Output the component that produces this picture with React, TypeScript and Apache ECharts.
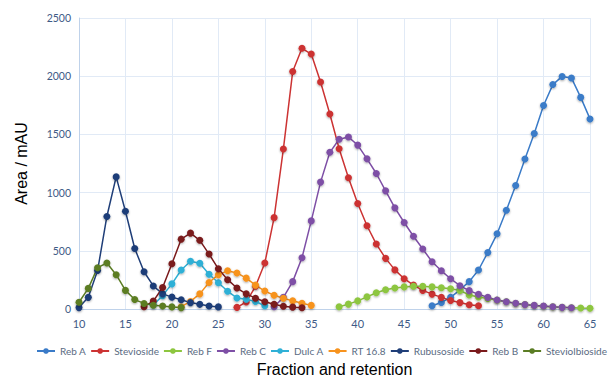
import React, { useEffect, useRef } from "react";
import * as echarts from "echarts";

// Fraction numbers (x) start for each series and the measured area values (mAU)
const rebAStart = 48;
const rebA = [28, 56, 100, 165, 235, 335, 486, 646, 848, 1061, 1288, 1507, 1748, 1928, 1998, 1985, 1818, 1633];

const steviosideStart = 27;
const stevioside = [14, 60, 195, 395, 785, 1375, 2040, 2240, 2190, 1950, 1675, 1377, 1128, 906, 715, 558, 435, 336, 260, 205, 160, 128, 100, 73, 55, 36, 28];

const rebFStart = 38;
const rebF = [20, 42, 70, 104, 140, 165, 180, 190, 196, 196, 190, 182, 174, 160, 120, 104, 90, 76, 62, 48, 38, 30, 24, 18, 14, 11, 8, 6];

const rebCStart = 31;
const rebC = [20, 100, 235, 440, 757, 1090, 1346, 1458, 1478, 1408, 1290, 1164, 1015, 869, 743, 625, 515, 406, 328, 260, 200, 158, 126, 100, 77, 62, 50, 39, 31, 25, 20, 14, 11];

const dulcAStart = 18;
const dulcA = [35, 115, 216, 335, 410, 393, 298, 226, 152, 95, 84, 64, 28];

const rt168Start = 21;
const rt168 = [20, 65, 130, 228, 295, 328, 310, 265, 205, 154, 118, 93, 70, 50, 31];

const rubusosideStart = 10;
const rubusoside = [12, 100, 330, 795, 1135, 840, 520, 320, 198, 130, 102, 80, 55, 40, 26, 18];

const rebBStart = 17;
const rebB = [20, 68, 185, 388, 600, 652, 590, 472, 345, 252, 180, 130, 93, 62, 40, 24, 16, 10];

const steviolbiosideStart = 10;
const steviolbioside = [58, 177, 355, 395, 295, 160, 81, 48, 32, 25, 18, 12];

const seriesNames = ["Reb A", "Stevioside", "Reb F", "Reb C", "Dulc A", "RT 16.8", "Rubusoside", "Reb B", "Steviolbioside"];
const seriesStarts = [rebAStart, steviosideStart, rebFStart, rebCStart, dulcAStart, rt168Start, rubusosideStart, rebBStart, steviolbiosideStart];
const seriesValues = [rebA, stevioside, rebF, rebC, dulcA, rt168, rubusoside, rebB, steviolbioside];
const seriesColors = ["#3A7BC8", "#CC3333", "#8DC63F", "#7E4FA6", "#2FB0D6", "#F7931E", "#1F3E78", "#7A1A1C", "#5B7D24"];

const xMin = 10;
const xMax = 65;
const xStep = 5;
const yMin = 0;
const yMax = 2500;
const yStep = 500;

export default function App() {
  const ref = useRef<HTMLDivElement>(null);

  useEffect(() => {
    if (!ref.current) return;
    const chart = echarts.init(ref.current, undefined, { renderer: "svg" });
    const labelFont = "Lato, 'Open Sans', sans-serif";
    chart.setOption({
      animation: false,
      backgroundColor: "#ffffff",
      grid: { left: 79, right: 24, top: 18, bottom: 67, containLabel: false },
      legend: {
        data: seriesNames,
        top: 346,
        left: 36,
        right: 0,
        padding: 0,
        itemWidth: 18,
        itemHeight: 7,
        itemGap: 4,
        textStyle: { color: "#5A6B82", fontSize: 10, fontFamily: labelFont },
      },
      xAxis: {
        type: "value",
        min: xMin,
        max: xMax,
        interval: xStep,
        name: "Fraction and retention",
        nameLocation: "middle",
        nameGap: 52,
        nameTextStyle: { color: "#000", fontSize: 16, fontFamily: "'Liberation Sans', Arial, sans-serif" },
        axisLine: { show: true, lineStyle: { color: "#BFD2EA", width: 1 } },
        axisTick: { show: false },
        axisLabel: { color: "#3E5A86", fontSize: 11, fontFamily: labelFont, margin: 9 },
        splitLine: { show: true, lineStyle: { color: "#E1EAF6", width: 1 } },
      },
      yAxis: {
        type: "value",
        min: yMin,
        max: yMax,
        interval: yStep,
        name: "Area / mAU",
        nameLocation: "middle",
        nameGap: 50,
        nameRotate: 90,
        nameTextStyle: { color: "#000", fontSize: 16, fontFamily: "'Liberation Sans', Arial, sans-serif" },
        axisLine: { show: true, lineStyle: { color: "#BFD2EA", width: 1 } },
        axisTick: { show: false },
        axisLabel: {
          color: "#3E5A86",
          fontSize: 10.5,
          fontFamily: labelFont,
          margin: 8,
          formatter: (v: number) => String(v),
        },
        splitLine: { show: true, lineStyle: { color: "#E1EAF6", width: 1 } },
      },
      series: seriesNames.map((name, i) => ({
        name,
        type: "line",
        data: seriesValues[i].map((v, j) => [seriesStarts[i] + j, v]),
        symbol: "circle",
        symbolSize: 7,
        showSymbol: true,
        lineStyle: { color: seriesColors[i], width: 1.5 },
        itemStyle: {
          color: seriesColors[i],
          shadowBlur: 2,
          shadowColor: "rgba(0,0,0,0.35)",
          shadowOffsetY: 1,
        },
        emphasis: { disabled: true },
      })),
    });
    return () => chart.dispose();
  }, []);

  return (
    <div
      ref={ref}
      style={{ position: "fixed", left: 0, top: 0, width: 614, height: 382, background: "#fff" }}
    />
  );
}
